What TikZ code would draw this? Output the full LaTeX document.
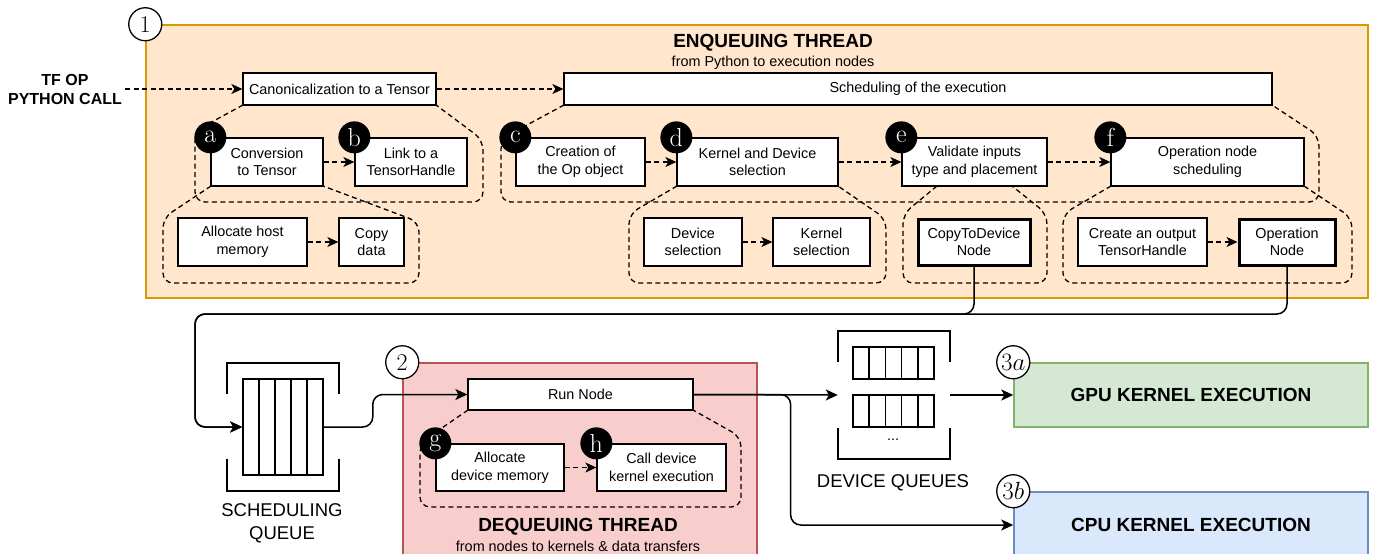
\documentclass[tikz,border=0pt]{standalone}
\usepackage{fontspec}
\setsansfont{Liberation Sans}
\usepackage{tikz}
\usetikzlibrary{arrows.meta}

\definecolor{enqline}{HTML}{D79B00}
\definecolor{enqfill}{HTML}{FFE6CC}
\definecolor{deqline}{HTML}{B85450}
\definecolor{deqfill}{HTML}{F8CECC}
\definecolor{gpuline}{HTML}{82B366}
\definecolor{gpufill}{HTML}{D5E8D4}
\definecolor{cpuline}{HTML}{6C8EBF}
\definecolor{cpufill}{HTML}{DAE8FC}

\begin{document}
\begin{tikzpicture}[x=1pt,y=-1pt,
txt/.style={font=\sffamily\fontsize{14.4}{17.7}\selectfont,align=center},
box/.style n args={2}{txt,draw,fill=white,line width=1.3pt,inner sep=0pt,minimum width=#1,minimum height=#2},
keybox/.style n args={2}{box={#1}{#2},line width=3pt},
area/.style n args={4}{draw=#1,fill=#2,line width=1.5pt,inner sep=0pt,minimum width=#3,minimum height=#4},
big/.style={font=\sffamily\bfseries\fontsize{19}{22}\selectfont,align=center},
qlabel/.style={font=\sffamily\fontsize{18.5}{23}\selectfont,align=center},
badge/.style={circle,fill=black,text=white,minimum size=32pt,inner sep=0pt,font=\fontsize{26}{26}\selectfont},
num/.style={circle,draw,fill=white,line width=1.3pt,minimum size=33pt,inner sep=0pt,font=\fontsize{24}{24}\selectfont},
grp/.style={line width=1.3pt,dash pattern=on 5pt off 3.5pt,rounded corners=10pt},
dflow/.style={line width=1.3pt,dash pattern=on 5pt off 3.5pt,-{Stealth[length=11pt,width=10pt,inset=3pt]}},
flow/.style={line width=1.5pt,rounded corners=10pt,-{Stealth[length=12pt,width=11pt,inset=3pt]}}]
\useasboundingbox (0,0) rectangle (1374,554);
\clip (0,0) rectangle (1374,554);

% threads and executors
\node[area={enqline}{enqfill}{1222}{273}] (enq) at (757,161.5) {};
\node[area={deqline}{deqfill}{354}{195}] (deq) at (580,460.5) {};
\node[area={gpuline}{gpufill}{354}{64},big] (gpu) at (1191,395) {GPU KERNEL EXECUTION};
\node[area={cpuline}{cpufill}{354}{66},big] (cpu) at (1191,525) {CPU KERNEL EXECUTION};

\node[big] (enqtitle) at (773,43) {ENQUEUING THREAD};
\node[txt] (enqsub) at (773,63) {from Python to execution nodes};
\node[big] (deqtitle) at (578,527) {DEQUEUING THREAD};
\node[txt] (deqsub) at (578,546) {from nodes to kernels \& data transfers};
\node[font=\sffamily\bfseries\fontsize{16}{19}\selectfont,align=center] (pycall) at (65,89) {TF OP\\PYTHON CALL};

% sub-step groups
\draw[grp] (243,105) -- (195,131) -- (195,202) -- (483,202) -- (483,140) -- (436,105);
\draw[grp] (564,105) -- (501,139) -- (501,202) -- (1319,202) -- (1319,136) -- (1272,105);
\draw[grp] (211,186) -- (163,218) -- (163,283) -- (419,283) -- (419,222) -- (323,186);
\draw[grp] (677,186) -- (629,214) -- (629,283) -- (886,283) -- (886,219) -- (838,186);
\draw[grp] (937,186) -- (903,214) -- (903,283) -- (1047,283) -- (1047,214) -- (1012,186);
\draw[grp] (1111,186) -- (1063,214) -- (1063,283) -- (1352,283) -- (1352,218) -- (1304,186);
\draw[grp] (468,410) -- (420,443) -- (420,507) -- (741,507) -- (741,437) -- (693,410);

% steps
\node[box={193}{32}] (canon) at (339.5,89) {Canonicalization to a Tensor};
\node[box={708}{32}] (sched) at (918,89) {Scheduling of the execution};
\node[box={112}{48}] (conv) at (267,162) {Conversion\\to Tensor};
\node[box={112}{48}] (link) at (411,162) {Link to a\\TensorHandle};
\node[box={129}{48}] (opobj) at (580.5,162) {Creation of\\the Op object};
\node[box={161}{48}] (kdsel) at (757.5,162) {Kernel and Device\\selection};
\node[box={145}{48}] (valid) at (974.5,162) {Validate inputs\\type and placement};
\node[box={193}{48}] (opsched) at (1207.5,162) {Operation node\\scheduling};
\node[box={129}{48}] (hostmem) at (242.5,242) {Allocate host\\memory};
\node[box={65}{48}] (copydata) at (371.5,242) {Copy\\data};
\node[box={98}{48}] (devsel) at (693,242) {Device\\selection};
\node[box={97}{48}] (kersel) at (821.5,242) {Kernel\\selection};
\node[keybox={112}{46}] (copynode) at (974,242) {CopyToDevice\\Node};
\node[box={129}{48}] (outhandle) at (1142.5,242) {Create an output\\TensorHandle};
\node[keybox={96}{46}] (opnode) at (1287,242) {Operation\\Node};
\node[box={225}{31}] (runnode) at (580.5,394.5) {Run Node};
\node[box={128}{47}] (devmem) at (500,467.5) {Allocate\\device memory};
\node[box={129}{47}] (callk) at (661.5,467.5) {Call device\\kernel execution};

\draw[dflow] (pycall.east) -- (canon.west);
\foreach \a/\b in {canon/sched,conv/link,opobj/kdsel,kdsel/valid,valid/opsched,hostmem/copydata,devsel/kersel,outhandle/opnode,devmem/callk}
   \draw[dflow] (\a.east) -- (\b.west);

\foreach \n/\l in {conv/a,link/b,opobj/c,kdsel/d,valid/e,opsched/f,devmem/g,callk/h}
   \node[badge] (badge-\l) at (\n.north west) {\l};

\node[num] (n1) at (enq.north west) {1};
\node[num] (n2) at (deq.north west) {2};
\node[num] (n3a) at (gpu.north west) {$3a$};
\node[num] (n3b) at (cpu.north west) {$3b$};

% queues
\node[draw,line width=1.5pt,inner sep=0pt,minimum width=80,minimum height=96] (schedq) at (283,427) {};
\foreach \x in {259,275,291,307}
   \draw[line width=1.5pt] (\x,379) -- (\x,475);
\draw[line width=1.5pt] (227,394) -- (227,363) -- (339,363) -- (339,394);
\draw[line width=1.5pt] (227,459) -- (227,491) -- (339,491) -- (339,459);
\node[qlabel] (schedlbl) at (282,523) {SCHEDULING\\QUEUE};

\node[inner sep=0pt,minimum width=112,minimum height=128] (devq) at (894,395) {};
\foreach \y in {347,395} {
   \draw[line width=1.5pt] (853,\y) rectangle (934,\y+32);
   \foreach \x in {869.2,885.4,901.6,917.8}
      \draw[line width=1.5pt] (\x,\y) -- (\x,\y+32);
}
\draw[line width=1.5pt] (838,362) -- (838,331) -- (950,331) -- (950,362);
\draw[line width=1.5pt] (838,428) -- (838,459) -- (950,459) -- (950,428);
\node[txt] (dots) at (893,440) {...};
\node[qlabel] (devlbl) at (893,483) {DEVICE QUEUES};

% data flow
\coordinate (ret) at (195,314);
\draw[flow] (opnode.south) |- (ret) |- (schedq.west);
\draw[flow] (copynode.south) |- (ret) |- (schedq.west);
\draw[flow] (schedq.east) -- ++(49,0) |- (runnode.west);
\draw[flow] (runnode.east) -- (devq.west);
\draw[flow] (runnode.east) -- ++(97,0) |- (cpu.west);
\draw[flow] (devq.east) -- (gpu.west);
\end{tikzpicture}
\end{document}
